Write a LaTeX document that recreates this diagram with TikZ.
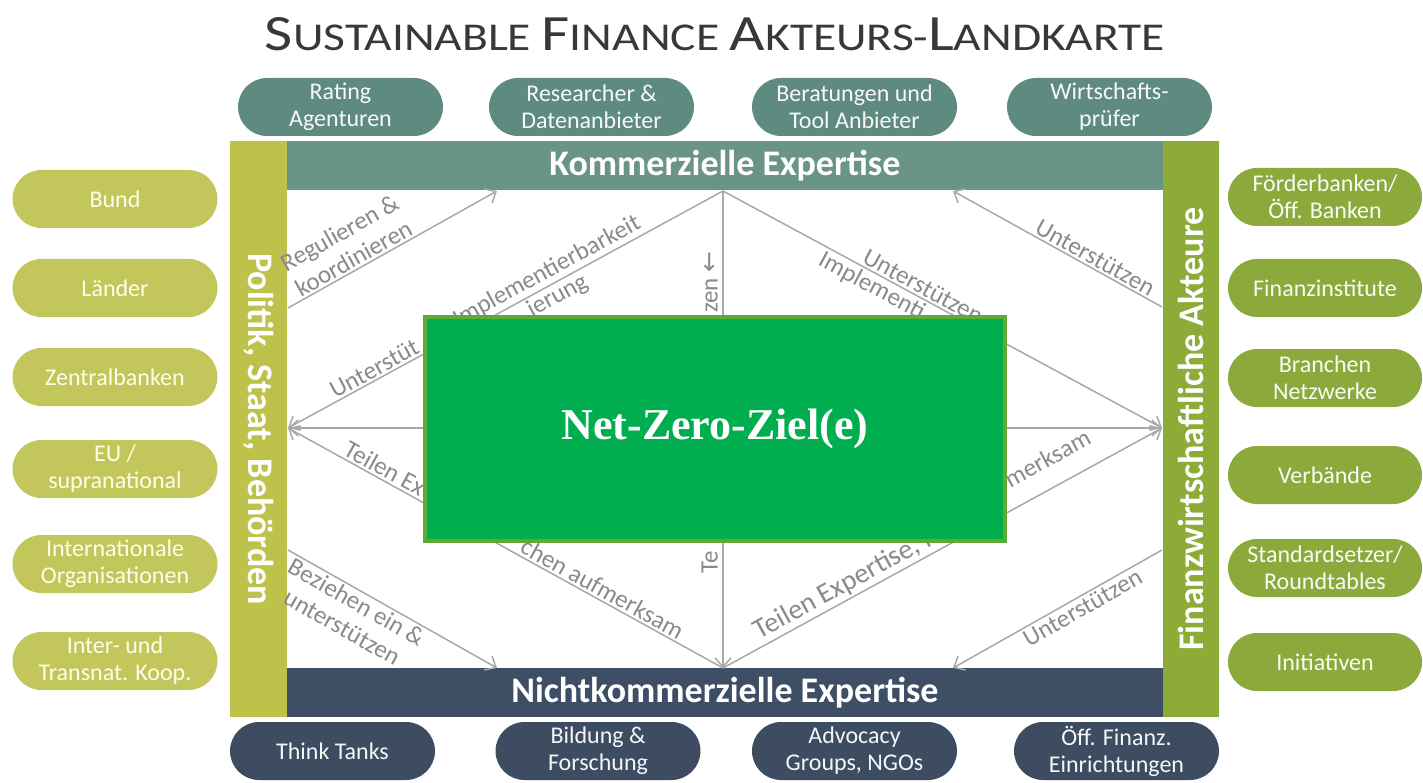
\documentclass[tikz,border=0pt]{standalone}
\usepackage{fontspec}
\setmainfont{Carlito}
\newfontfamily\nzfont{Liberation Serif}
\newfontfamily\symfont{DejaVu Sans}
\usepackage{graphicx}
\usetikzlibrary{arrows.meta}
\definecolor{cTitle}{HTML}{383838}
\definecolor{cTopPill}{HTML}{5F8A7F}
\definecolor{cKomm}{HTML}{6B9488}
\definecolor{cPol}{HTML}{BEC24B}
\definecolor{cPolPill}{HTML}{C3C65A}
\definecolor{cFin}{HTML}{8CAC37}
\definecolor{cFinPill}{HTML}{8BAA3B}
\definecolor{cNicht}{HTML}{3E4E64}
\definecolor{cNichtPill}{HTML}{3E4C62}
\definecolor{cNZ}{HTML}{00AE4F}
\definecolor{cNZb}{HTML}{5EAA35}
\definecolor{cLine}{HTML}{A8A8A8}
\definecolor{cLbl}{HTML}{8A8A8A}
\newcommand{\tbig}[1]{{\fontsize{40}{40}\selectfont #1}}
\newcommand{\tsm}[1]{{\fontsize{31}{31}\selectfont #1}}
\tikzset{
  pill/.style={rounded corners=29pt, minimum width=205pt, minimum height=58pt, inner sep=0pt, align=center, font=\fontsize{24}{27}\selectfont},
  toppill/.style={pill, fill=cTopPill, text=white!95!cTopPill},
  polpill/.style={pill, fill=cPolPill, text=white!92!yellow},
  finpill/.style={pill, fill=cFinPill, minimum width=194pt, text=white!95!cFinPill},
  botpill/.style={pill, fill=cNichtPill, text=white!95!cNichtPill},
  hbar/.style={minimum width=876pt, minimum height=49pt, inner sep=0pt, text=white, font=\bfseries\fontsize{36}{40}\selectfont},
  vbar/.style={minimum width=576pt, minimum height=57pt, inner sep=0pt, text=white, font=\bfseries\fontsize{36}{40}\selectfont},
  conn/.style={draw=cLine, line width=1.5pt},
  lbl/.style={text=cLbl, font=\fontsize{25}{29}\selectfont, inner sep=2pt},
  >={Straight Barb[length=9pt,width=16pt]}
}
\begin{document}
\begin{tikzpicture}[x=1pt,y=-1pt]
\useasboundingbox (0,0) rectangle (1423,783);
\fill[white] (0,0) rectangle (1423,783);

% title
\node[text=cTitle, inner sep=0pt] (title) at (715,34) {\resizebox{900pt}{33pt}{\tbig{S}\tsm{USTAINABLE\ }\tbig{F}\tsm{INANCE\ }\tbig{A}\tsm{KTEURS-}\tbig{L}\tsm{ANDKARTE}}};

% top pills
\node[toppill] (rating)   at (340.5,107) {Rating\\Agenturen};
\node[toppill] (research) at (591.5,107) {Researcher \&\\Datenanbieter};
\node[toppill] (berat)    at (854.5,107) {Beratungen und\\Tool Anbieter};
\node[toppill] (wirt)     at (1109.5,107) {Wirtschafts-\\prüfer};

% bars
\node[hbar, fill=cKomm]  (komm)  at (725,165.5) {Kommerzielle Expertise};
\node[hbar, fill=cNicht] (nicht) at (725,692.5) {Nichtkommerzielle Expertise};
\node[vbar, fill=cPol, rotate=-90] (pol) at (258.5,429) {Politik, Staat, Behörden};
\node[vbar, fill=cFin, rotate=90, minimum height=56pt] (fin) at (1191,429) {Finanzwirtschaftliche Akteure};

% left pills
\node[polpill] (bund)    at (115,199) {Bund};
\node[polpill] (laender) at (115,288) {Länder};
\node[polpill] (zentral) at (115,377) {Zentralbanken};
\node[polpill] (eu)      at (115,469) {EU /\\supranational};
\node[polpill] (intl)    at (115,564) {Internationale\\Organisationen};
\node[polpill] (inter)   at (115,661) {Inter- und\\Transnat. Koop.};

% right pills
\node[finpill] (foerder)  at (1325,197) {Förderbanken/\\Öff. Banken};
\node[finpill] (finanz)   at (1325,288) {Finanzinstitute};
\node[finpill] (branchen) at (1325,378) {Branchen\\Netzwerke};
\node[finpill] (verb)     at (1325,475) {Verbände};
\node[finpill] (standard) at (1325,568) {Standardsetzer/\\Roundtables};
\node[finpill] (init)     at (1325,662) {Initiativen};

% bottom pills
\node[botpill] (think) at (332.5,751) {Think Tanks};
\node[botpill] (bild)  at (598,751) {Bildung \&\\Forschung};
\node[botpill] (advo)  at (854.5,751) {Advocacy\\Groups, NGOs};
\node[botpill] (oeff)  at (1116.5,751) {Öff. Finanz.\\Einrichtungen};

% connector end points
\coordinate (TM) at (723,191);
\coordinate (BM) at (723,668);
\coordinate (LM) at (288,428);
\coordinate (RM) at (1162,428);
\coordinate (A1) at (288,308);
\coordinate (A2) at (497,191);
\coordinate (D1) at (1162,307);
\coordinate (D2) at (953,191);
\coordinate (F1) at (288,550);
\coordinate (F2) at (497,668);
\coordinate (H1) at (1162,550);
\coordinate (H2) at (953,668);

% connectors
\draw[conn,->] (A1) -- node[lbl,sloped,above,pos=0.34,align=center] (lA) {Regulieren \&\\koordinieren} (A2);
\draw[conn,<-] (LM) -- node[lbl,sloped,above,pos=0.21] (lB1) {Unterstüt}
                       node[lbl,sloped,above,pos=0.61] (lB2) {Implementierbarkeit}
                       node[lbl,sloped,below,pos=0.605] (lB3) {ierung} (TM);
\draw[conn,->] (TM) -- node[lbl,sloped,above,pos=0.444] (lC1) {Unterstützen}
                       node[lbl,sloped,below,pos=0.353] (lC2) {Implementi} (RM);
\draw[conn,<-] (D2) -- node[lbl,sloped,above,pos=0.655] (lD) {Unterstützen} (D1);
\draw[conn,<-] (LM) -- node[lbl,sloped,above,pos=0.21] (lE1) {Teilen Ex}
                       node[lbl,sloped,above,pos=0.71] (lE2) {chen aufmerksam} (BM);
\draw[conn,->] (F1) -- node[lbl,sloped,below,pos=0.355,align=center] (lF) {Beziehen ein \&\\unterstützen} (F2);
\draw[conn,->] (BM) -- node[lbl,sloped,above,pos=0.305,font=\fontsize{28}{30}\selectfont] (lG1) {Teilen Expertise, m}
                       node[lbl,sloped,above=17pt,pos=0.77] (lG2) {merksam} (RM);
\draw[conn,<-] (H2) -- node[lbl,sloped,below,pos=0.593] (lH) {Unterstützen} (H1);
\draw[conn,<->] (LM) -- (RM);
\draw[conn,->] (TM) -- (BM);
\node[lbl, rotate=90, anchor=south west, inner sep=0pt] (lV1) at (718,313) {zen {\symfont ←}};
\node[lbl, rotate=90, anchor=south west, inner sep=0pt] (lV2) at (718,574) {Te};

% centre box
\node[fill=cNZ, draw=cNZb, line width=4pt, minimum width=580pt, minimum height=224pt, inner sep=0pt, text=white, font=\nzfont\bfseries\fontsize{44}{48}\selectfont] (nz) at (715,429) {Net-Zero-Ziel(e)};
\end{tikzpicture}
\end{document}
